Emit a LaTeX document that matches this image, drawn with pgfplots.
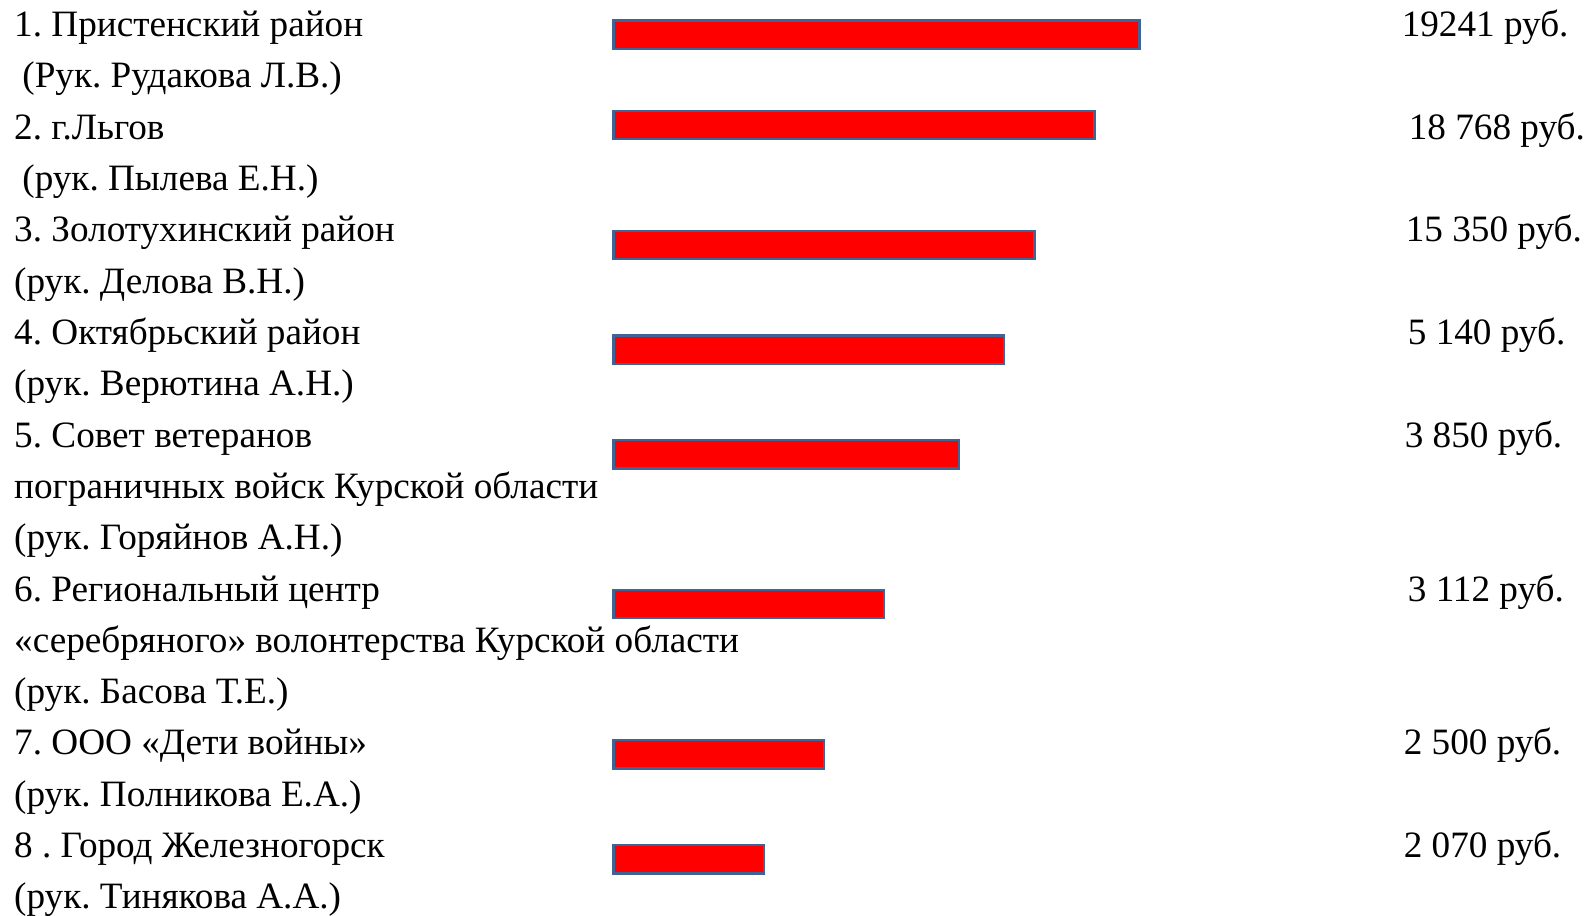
\documentclass[border=0pt]{standalone}
\usepackage{fontspec}
\setmainfont{Liberation Serif}
\usepackage{pgfplots}
\usepackage{pgfplotstable}
\pgfplotsset{compat=1.18}
\frenchspacing
\definecolor{barred}{RGB}{255,0,0}
\definecolor{baredge}{RGB}{65,100,150}
\tikzset{lbl/.style={font=\fontsize{18.6}{22}\selectfont, inner sep=0pt, outer sep=0pt, anchor=base west}}

% bar centre (from top), bar length (from the bars' common left edge)
\pgfplotstableread{
y   len
34  517
123 473
241 414
344 384
447 340
594 266
742 207
845 148
}\bars

\begin{document}
\begin{tikzpicture}
\begin{axis}[
    scale only axis,
    width=797.5pt, height=457.5pt,
    xmin=-603, xmax=965,
    ymin=0, ymax=900,
    y dir=reverse,
    axis lines=none,
    clip=false,
]
\addplot[xbar, bar width=14.2pt, fill=barred, draw=baredge, line width=1.2pt]
    table[x=len, y=y] {\bars};

% left labels
\node[lbl] at (axis cs:-589,36)    {1. Пристенский район};
\node[lbl] at (axis cs:-581,86.5)  {(Рук. Рудакова Л.В.)};
\node[lbl] at (axis cs:-589,137)   {2. г.Льгов};
\node[lbl] at (axis cs:-581,187.4) {(рук. Пылева Е.Н.)};
\node[lbl] at (axis cs:-589,237.9) {3. Золотухинский район};
\node[lbl] at (axis cs:-589,288.4) {(рук. Делова В.Н.)};
\node[lbl] at (axis cs:-589,338.8) {4. Октябрьский район};
\node[lbl] at (axis cs:-589,389.3) {(рук. Верютина А.Н.)};
\node[lbl] at (axis cs:-589,439.8) {5. Совет ветеранов};
\node[lbl] at (axis cs:-589,490.2) {пограничных войск Курской области};
\node[lbl] at (axis cs:-589,540.7) {(рук. Горяйнов А.Н.)};
\node[lbl] at (axis cs:-589,591.2) {6. Региональный центр};
\node[lbl] at (axis cs:-589,641.6) {«серебряного» волонтерства Курской области};
\node[lbl] at (axis cs:-589,692.1) {(рук. Басова Т.Е.)};
\node[lbl] at (axis cs:-589,742.6) {7. ООО «Дети войны»};
\node[lbl] at (axis cs:-589,793.1) {(рук. Полникова Е.А.)};
\node[lbl] at (axis cs:-589,843.5) {8 . Город Железногорск};
\node[lbl] at (axis cs:-589,894)   {(рук. Тинякова А.А.)};

% values
\node[lbl] at (axis cs:775,36)    {19241 руб.};
\node[lbl] at (axis cs:782,137)   {18 768 руб.};
\node[lbl] at (axis cs:779,237.9) {15 350 руб.};
\node[lbl] at (axis cs:781,338.8) {5 140 руб.};
\node[lbl] at (axis cs:778,439.8) {3 850 руб.};
\node[lbl] at (axis cs:781,591.2) {3 112 руб.};
\node[lbl] at (axis cs:777,742.6) {2 500 руб.};
\node[lbl] at (axis cs:777,843.5) {2 070 руб.};

\coordinate (bbA) at (rel axis cs:0,0);
\coordinate (bbB) at (rel axis cs:1,1);
\end{axis}
\pgfresetboundingbox
\path[use as bounding box] (bbA) rectangle (bbB);
\end{tikzpicture}
\end{document}
